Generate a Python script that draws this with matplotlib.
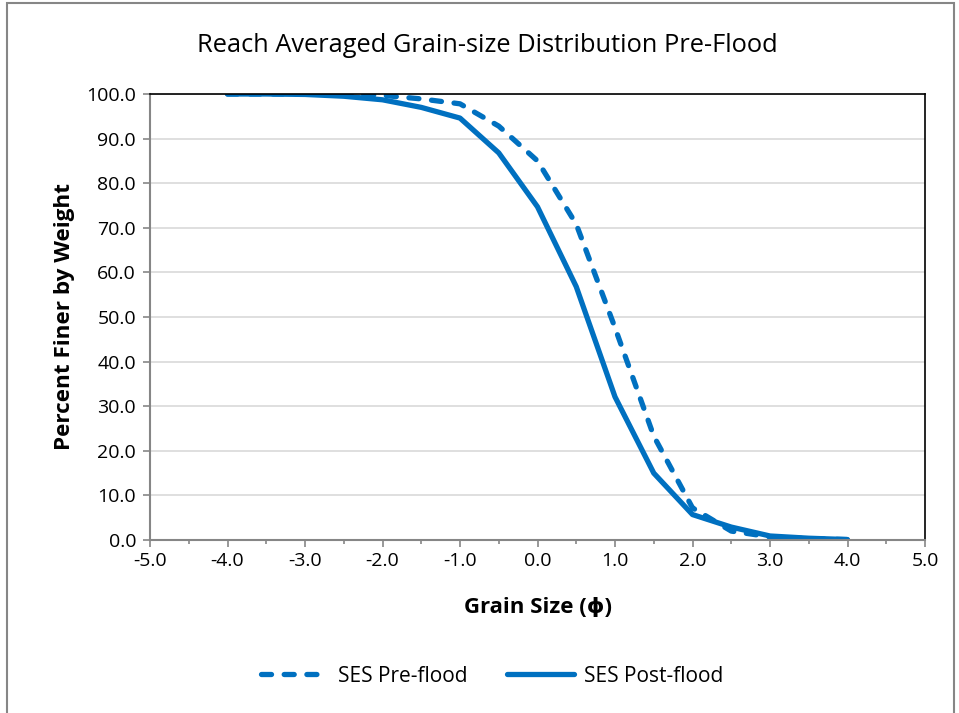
import matplotlib
matplotlib.use("Agg")
import matplotlib.pyplot as plt
from matplotlib.patches import Rectangle
from matplotlib.ticker import MultipleLocator, FormatStrFormatter

plt.rcParams['font.family'] = ['Open Sans', 'DejaVu Sans']

# grain size (phi) and percent finer
phi = [-4.0, -3.5, -3.0, -2.5, -2.0, -1.5, -1.0, -0.5, 0.0, 0.5, 1.0, 1.5, 2.0, 2.5, 3.0, 3.5, 4.0]
pre_flood = [100.0, 100.0, 100.0, 99.9, 99.7, 98.9, 97.8, 92.8, 85.0, 70.8, 47.6, 23.3, 7.2, 2.0, 0.7, 0.3, 0.1]
post_flood = [100.0, 100.0, 99.9, 99.5, 98.7, 97.0, 94.6, 86.8, 74.7, 56.8, 32.1, 15.0, 5.7, 2.9, 0.9, 0.4, 0.1]

blue = '#0070C0'

fig = plt.figure(figsize=(9.59, 7.13), dpi=100)
ax = fig.add_axes([150/959, 1-540/713, 775/959, 446/713])

ax.plot(phi, pre_flood, color=blue, lw=3.8, ls=(0, (1.9, 2.4)), dash_capstyle='round',
        solid_capstyle='round', label='SES Pre-flood')
ax.plot(phi, post_flood, color=blue, lw=3.8, solid_capstyle='round', label='SES Post-flood')

ax.set_xlim(-5, 5)
ax.set_ylim(0, 100)
ax.xaxis.set_major_locator(MultipleLocator(1))
ax.xaxis.set_minor_locator(MultipleLocator(0.5))
ax.yaxis.set_major_locator(MultipleLocator(10))
ax.xaxis.set_major_formatter(FormatStrFormatter('%.1f'))
ax.yaxis.set_major_formatter(FormatStrFormatter('%.1f'))
ax.grid(axis='y', color='#D9D9D9', lw=1.2)
ax.set_axisbelow(True)

for side in ['top', 'right']:
    ax.spines[side].set_color('black')
    ax.spines[side].set_linewidth(1.2)
for side in ['left', 'bottom']:
    ax.spines[side].set_color('#868686')
    ax.spines[side].set_linewidth(1.5)

ax.tick_params(which='major', direction='out', length=5, color='#868686', width=1.2,
               labelsize=14, labelcolor='black')
ax.tick_params(which='minor', direction='out', length=3, color='#868686', width=1.2)
ax.tick_params(axis='x', which='major', pad=4)
ax.tick_params(axis='y', which='major', pad=5)

ax.set_xlabel('Grain Size (ϕ)', fontsize=16, fontweight='bold', labelpad=19)
ax.set_ylabel('Percent Finer by Weight', fontsize=16.2, fontweight='bold', labelpad=8)

fig.text(487/959, 1-45/713, 'Reach Averaged Grain-size Distribution Pre-Flood',
         ha='center', va='center', fontsize=18.3)

fig.legend(loc='center', bbox_to_anchor=(492/959, 1-676/713), ncol=2, frameon=False,
           fontsize=15, handlelength=3.2, columnspacing=1.9, handletextpad=0.5)

fig.patches.append(Rectangle((7/959, -0.05), 947/959, 1.05 - 3/713, transform=fig.transFigure,
                             fill=False, edgecolor='#868686', lw=1.5))

fig.savefig('out.png', dpi=100)
